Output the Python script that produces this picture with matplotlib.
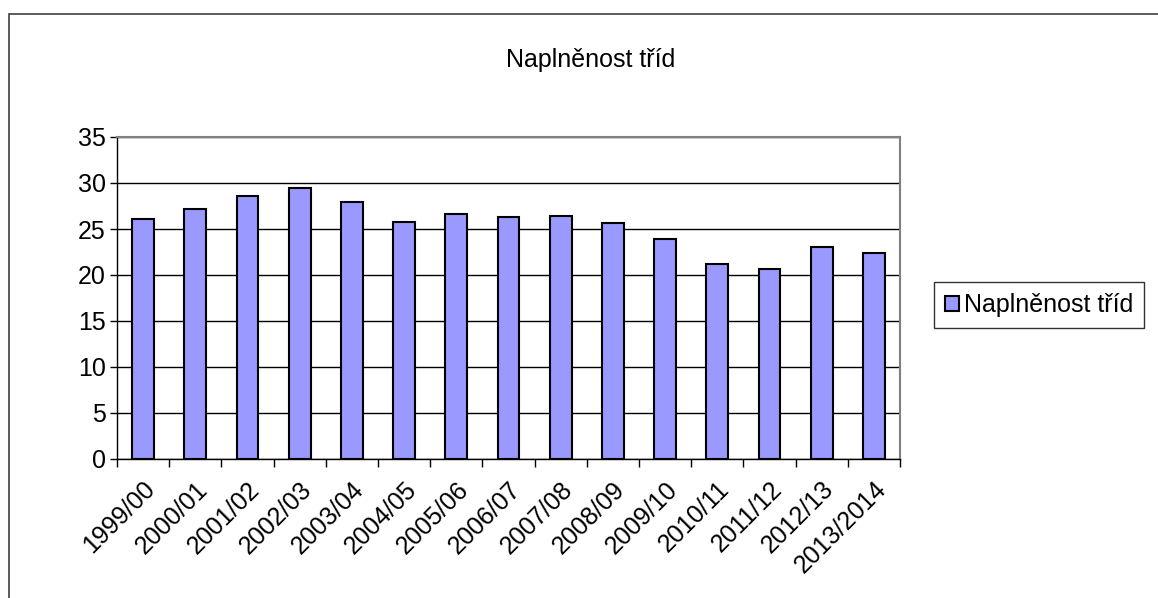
import matplotlib
matplotlib.use("Agg")
import matplotlib.pyplot as plt
from matplotlib.patches import Rectangle

categories = ["1999/00", "2000/01", "2001/02", "2002/03", "2003/04", "2004/05",
              "2005/06", "2006/07", "2007/08", "2008/09", "2009/10", "2010/11",
              "2011/12", "2012/13", "2013/2014"]
values = [26.1, 27.2, 28.6, 29.5, 27.9, 25.8, 26.6, 26.3, 26.4, 25.7,
          23.9, 21.2, 20.6, 23.0, 22.4]
series_name = "Naplněnost tříd"
title = "Naplněnost tříd"
yticks = [0, 5, 10, 15, 20, 25, 30, 35]

plt.rcParams['font.family'] = ['Liberation Sans', 'DejaVu Sans']
FS = 18

W, H = 1158, 598
fig = plt.figure(figsize=(W / 100, H / 100), dpi=100)

# outer chart frame
fig.add_artist(Rectangle((8.5 / W, -0.05), 1.0, (H - 13.5) / H + 0.05,
                         transform=fig.transFigure, fill=False,
                         edgecolor='#404040', linewidth=1.2))

left, right, top, bottom = 117, 900, 137, 459
ax = fig.add_axes([left / W, 1 - bottom / H, (right - left) / W, (bottom - top) / H])

x = list(range(len(categories)))
ax.bar(x, values, width=0.42, color='#9999FF', edgecolor='black', linewidth=1.5,
       label=series_name, zorder=3)

ax.set_xlim(-0.5, len(categories) - 0.5)
ax.set_ylim(0, 35)
ax.set_yticks(yticks)
ax.set_yticklabels([str(t) for t in yticks], fontsize=FS)
ax.yaxis.grid(True, color='black', linewidth=1.0, zorder=0)
ax.tick_params(axis='y', length=5, width=1, direction='out', pad=3)

ax.set_xticks([i - 0.5 for i in range(len(categories) + 1)], minor=False)
ax.set_xticklabels([])
ax.set_xticks(x, minor=True)
ax.set_xticklabels(categories, minor=True, rotation=45, ha='right', va='top',
                   rotation_mode='anchor', fontsize=FS)
ax.tick_params(axis='x', which='major', length=6, width=1, direction='out')
ax.tick_params(axis='x', which='minor', length=0, pad=13)

for s in ['top', 'right']:
    ax.spines[s].set_color('#808080')
    ax.spines[s].set_linewidth(1.5)
for s in ['left', 'bottom']:
    ax.spines[s].set_color('black')
    ax.spines[s].set_linewidth(1.0)

fig.text(591 / W, 1 - 60 / H, title, ha='center', va='center', fontsize=FS)

leg = fig.legend(loc='center', bbox_to_anchor=(1039 / W, 1 - 305 / H), fontsize=FS,
                 frameon=True, fancybox=False, edgecolor='black', handlelength=0.55,
                 handleheight=0.55, handletextpad=0.2, borderpad=0.45)
leg.get_frame().set_linewidth(1.0)

fig.savefig("out.png", dpi=100)
